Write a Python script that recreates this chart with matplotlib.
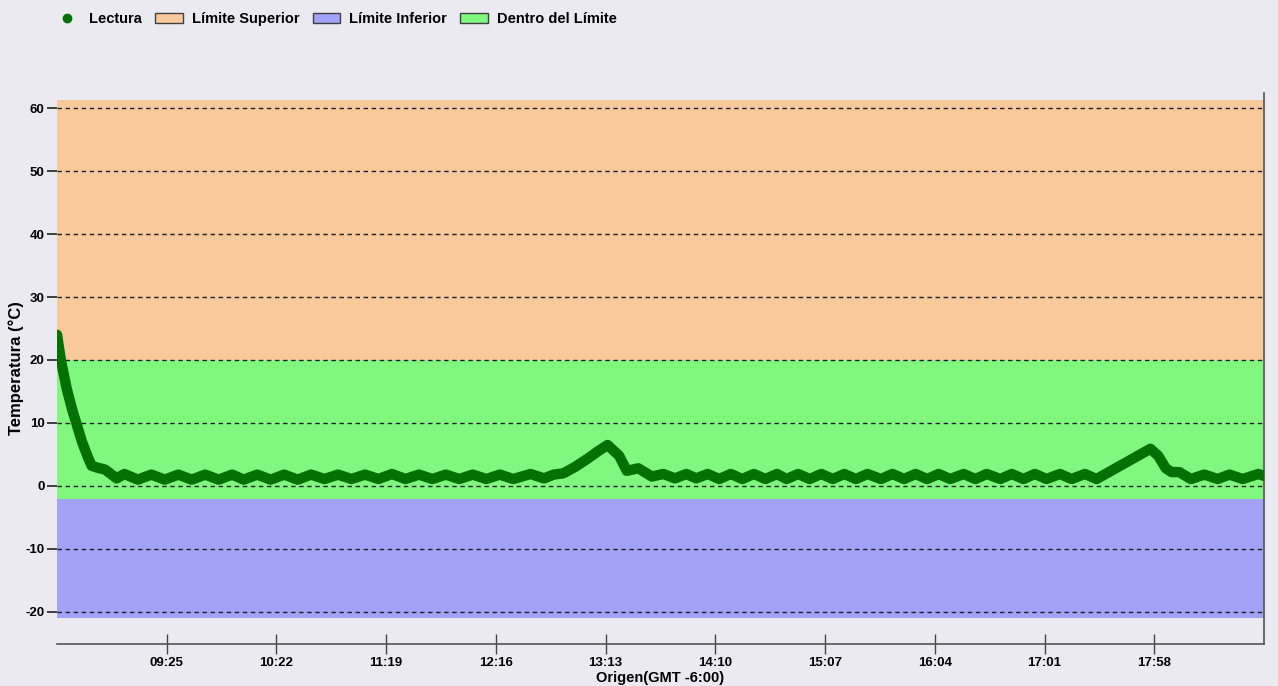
import matplotlib
matplotlib.use("Agg")
import matplotlib.pyplot as plt
from matplotlib.lines import Line2D
from matplotlib.patches import Patch

plt.rcParams['font.family'] = ['Liberation Sans', 'DejaVu Sans']
plt.rcParams['font.weight'] = 'bold'

# Lecturas de temperatura (hora local, °C)
read_times = [
    "08:28", "08:29", "08:30", "08:31", "08:33", "08:36", "08:38", "08:41", "08:44", "08:46", "08:49", "08:53", "08:56", "08:59",
    "09:03", "09:10", "09:17", "09:24", "09:31", "09:38", "09:45", "09:52", "09:59", "10:05", "10:12", "10:19", "10:26", "10:33",
    "10:40", "10:47", "10:54", "11:01", "11:08", "11:15", "11:22", "11:29", "11:36", "11:43", "11:50", "11:57", "12:04", "12:11",
    "12:18", "12:25", "12:34", "12:41", "12:46", "12:51",
    "12:57", "13:03", "13:09", "13:14", "13:20", "13:24", "13:30", "13:37",
    "13:43", "13:49", "13:55", "14:00", "14:06", "14:12", "14:18", "14:24", "14:30", "14:36", "14:42", "14:47", "14:53", "14:59",
    "15:05", "15:11", "15:17", "15:23", "15:29", "15:36", "15:42", "15:48", "15:54", "16:00", "16:06", "16:12", "16:19", "16:25",
    "16:31", "16:38", "16:44", "16:50", "16:56", "17:02", "17:09", "17:15", "17:22", "17:28",
    "17:35", "17:42", "17:49", "17:56", "18:00", "18:04", "18:07", "18:11", "18:17", "18:24", "18:31", "18:37", "18:44", "18:52",
    "18:55",
]
read_temps = [
    24.0, 22.0, 20.0, 18.5, 15.5, 12.0, 10.0, 7.0, 4.6, 3.2, 2.9, 2.6, 1.9, 1.2,
    1.9, 1.0, 1.8, 1.0, 1.8, 1.0, 1.8, 1.0, 1.8, 1.0, 1.8, 1.0, 1.8, 1.0,
    1.8, 1.1, 1.8, 1.1, 1.8, 1.1, 1.9, 1.1, 1.8, 1.1, 1.8, 1.1, 1.8, 1.1,
    1.8, 1.1, 1.9, 1.2, 1.8, 2.0,
    3.0, 4.2, 5.5, 6.5, 4.8, 2.4, 2.8, 1.5,
    1.9, 1.2, 1.9, 1.2, 1.9, 1.1, 1.9, 1.1, 1.9, 1.1, 1.9, 1.1, 1.9, 1.1,
    1.9, 1.1, 1.9, 1.1, 1.9, 1.1, 1.9, 1.1, 1.9, 1.1, 1.9, 1.1, 1.9, 1.1,
    1.9, 1.1, 1.9, 1.1, 1.9, 1.1, 1.9, 1.1, 1.9, 1.1,
    2.3, 3.5, 4.7, 5.9, 4.8, 2.8, 2.2, 2.2, 1.1, 1.8, 1.1, 1.8, 1.1, 1.9,
    1.6,
]

# Limites
upper_limit = 20
lower_limit = -2
band_top = 61.3
band_bottom = -21

x_ticks = ["09:25", "10:22", "11:19", "12:16", "13:13", "14:10", "15:07", "16:04", "17:01", "17:58"]
x_range = ["08:28", "18:55"]
y_ticks = [-20, -10, 0, 10, 20, 30, 40, 50, 60]


def to_min(hhmm):
    h, m = hhmm.split(":")
    return int(h) * 60 + int(m)


bg = '#eaeaf0'
fig = plt.figure(figsize=(12.78, 6.86), dpi=100, facecolor=bg)
ax = fig.add_axes([57 / 1278, 42 / 686, 1207 / 1278, 551 / 686])
ax.set_facecolor(bg)

ax.axhspan(upper_limit, band_top, color='#f8c99b', lw=0, zorder=0)
ax.axhspan(lower_limit, upper_limit, color='#80f880', lw=0, zorder=0)
ax.axhspan(band_bottom, lower_limit, color='#a2a2f8', lw=0, zorder=0)

for yv in y_ticks:
    ax.axhline(yv, color='#202020', lw=1.0, dashes=(3.2, 2.6), zorder=1)

xs = [to_min(t) for t in read_times]
ax.plot(xs, read_temps, color='#047004', lw=7.5, solid_joinstyle='round',
        solid_capstyle='round', zorder=3)

ax.set_xlim(to_min(x_range[0]), to_min(x_range[1]))
ax.set_ylim(-25.1, 62.4)

ax.set_xticks([to_min(t) for t in x_ticks])
ax.set_xticklabels(x_ticks, fontsize=9.5, fontweight='bold')
ax.set_yticks(y_ticks)
ax.set_yticklabels([str(v) for v in y_ticks], fontsize=9.5, fontweight='bold')
ax.tick_params(axis='x', direction='inout', length=15, width=1, color='#444444', pad=2)
ax.tick_params(axis='y', direction='out', length=7, width=1.2, color='#222222', pad=2)

for s in ['left', 'top']:
    ax.spines[s].set_visible(False)
for s in ['bottom', 'right']:
    ax.spines[s].set_color('#555555')
    ax.spines[s].set_linewidth(1.2)

ax.set_ylabel("Temperatura (°C)", fontsize=12, fontweight='bold', labelpad=1)
ax.set_xlabel("Origen(GMT -6:00)", fontsize=10.5, fontweight='bold', labelpad=1)

handles = [
    Line2D([], [], marker='o', color='#047004', linestyle='none', markersize=6),
    Patch(facecolor='#f8c99b', edgecolor='#404040', lw=1),
    Patch(facecolor='#a2a2f8', edgecolor='#404040', lw=1),
    Patch(facecolor='#80f880', edgecolor='#404040', lw=1),
]
labels = ["Lectura", "Límite Superior", "Límite Inferior", "Dentro del Límite"]
fig.legend(handles, labels, loc='center left', bbox_to_anchor=(53 / 1278, 1 - 19 / 686),
           ncol=4, frameon=False, fontsize=10.5, handlelength=1.9, handleheight=0.7,
           handletextpad=0.6, columnspacing=0.9, borderpad=0, borderaxespad=0)

fig.savefig("out.png", dpi=100, facecolor=bg)
